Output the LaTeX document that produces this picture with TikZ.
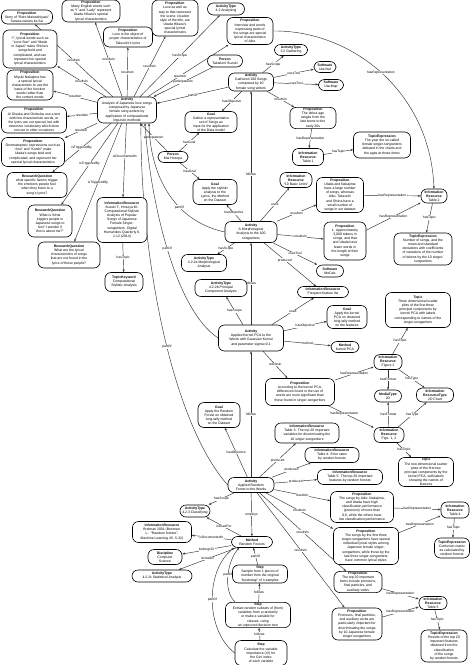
\documentclass[tikz,border=0pt]{standalone}
\usepackage{fontspec}
\setmainfont{Liberation Sans}
\usetikzlibrary{arrows.meta}
\pgfdeclarelayer{bg}
\pgfsetlayers{bg,main}
\newcommand\nodefnt{\fontsize{3.45}{4.1}\selectfont}
\newcommand\labelfnt{\fontsize{3.3}{4}\selectfont}
\tikzset{
  nd/.style={draw=black, line width=0.6pt, rounded corners=6pt, fill=white, align=center, inner sep=0.8pt, font=\nodefnt},
  lb/.style={font=\labelfnt, fill=white, inner sep=0.4pt},
  ar/.style={draw=black!80, line width=0.45pt, -{Stealth[length=2.8pt,width=2.1pt]}},
}
\begin{document}
\begin{tikzpicture}[x=1pt,y=-1pt]
\begin{pgfonlayer}{bg}
\fill[white] (0,0) rectangle (474,665);
\end{pgfonlayer}
\useasboundingbox (0,0) rectangle (474,665);

% ---------------- nodes ----------------
\node[nd,minimum width=51,minimum height=14] (pA) at (27,17) {\textbf{Proposition}\\Story of ``Rare Mainashiyatu''\\Sarasa zanaru ka fuu};
\node[nd,minimum width=58,minimum height=22] (pB) at (91,11) {\textbf{Proposition}\\Many English words such\\as ``I'' and ``Lady'' represent\\Utada Hikaru's special\\lyrical characteristics};
\node[nd,minimum width=54,minimum height=38] (pC) at (30,49) {\textbf{Proposition}\\``I'', lyrical words such as\\``Lone Star'' and ``Made\\in Japan'' make Shiina's\\songs bold and\\complicated, and can\\represent her special\\lyrical characteristics};
\node[nd,minimum width=49,minimum height=20] (pD) at (128,37) {\textbf{Proposition}\\Love is the object of\\proper characteristics of\\Takeuchi's lyrics};
\node[nd,minimum width=46,minimum height=30] (pE) at (30,85) {\textbf{Proposition}\\Miyuki Nakajima has\\a special lyrical\\characteristic to use the\\basis of the function\\words rather than\\the content words};
\node[nd,minimum width=65,minimum height=26] (pF) at (34,120) {\textbf{Proposition}\\Ai Otsuka and Onitsuka use a text\\with few characteristic words, or\\the lyrics are not special, but with\\extensive vocabulary which does\\not use in other occasions};
\node[nd,minimum width=63,minimum height=29] (pG) at (33,152) {\textbf{Proposition}\\Onomatopoeic expressions such as\\``Ano'' and ``Koishi'' make\\Utada's songs bold and\\complicated, and represent her\\special lyrical characteristics};
\node[nd,minimum width=59,minimum height=26] (A1) at (127,110) {\textbf{Activity}\\Analysis of Japanese love songs\\composed by Japanese\\female song writers by\\application of computational\\linguistic methods};
\node[nd,minimum width=46,minimum height=36] (pH) at (175,18) {\textbf{Proposition}\\Love as well as\\way to that represent\\the scene, location\\style of the title, are\\Utada Hikaru's\\special lyrical\\characteristics};
\node[nd,minimum width=37,minimum height=12] (at42) at (226,9) {\textbf{ActivityType}\\4.2 Analysing};
\node[nd,minimum width=46,minimum height=27] (pI) at (250,31) {\textbf{Proposition}\\Interview and words\\expressing parts of\\the songs are special\\lyrical characteristics\\of Aiko};
\node[nd,minimum width=35,minimum height=12] (pers1) at (225,61) {\textbf{Person}\\Takafumi Suzuki};
\node[nd,minimum width=33,minimum height=11] (at32) at (291,50) {\textbf{ActivityType}\\3.2 Gathering};
\node[nd,minimum width=22,minimum height=11] (swNet) at (325,67) {\textbf{Software}\\Uta-Net};
\node[nd,minimum width=25,minimum height=11] (swMap) at (331,85) {\textbf{Software}\\Uta-Map};
\node[nd,minimum width=45,minimum height=18] (aGath) at (251,82) {\textbf{Activity}\\Gathered 100 Songs\\composed by 10\\female song writers};
\node[nd,minimum width=46,minimum height=21] (pDebut) at (313,118) {\textbf{Proposition}\\The debut age\\ranges from the\\late teens to the\\early 20s};
\node[nd,minimum width=52,minimum height=21] (goalG) at (211,122) {\textbf{Goal}\\Gather a representative\\set of Songs as\\input for the application\\of the Data model};
\node[nd,minimum width=30,minimum height=11] (pers2) at (173,157) {\textbf{Person}\\Mai Hosoya};
\node[nd,minimum width=31,minimum height=17] (ir1) at (308,157) {\textbf{Information}\\\textbf{Resource}\\Table 1};
\node[nd,minimum width=57,minimum height=26] (topic1) at (382,145) {\textbf{TopicExpression}\\The year the so-called\\female singer-songwriters\\debuted in the charts and\\the ages at those times};
\node[nd,minimum width=50,minimum height=45] (irSuz) at (122,220) {\textbf{InformationResource}\\Suzuki T., Hosoya M.:\\Computational Stylistic\\Analysis of Popular\\Songs of Japanese\\Female Singer-\\songwriters. Digital\\Humanities Quarterly 8,\\1-12 (2014)};
\node[nd,minimum width=38,minimum height=19] (tk) at (124,282) {\textbf{TopicKeyword}\\Computational\\Stylistic Analysis};
\node[nd,minimum width=60,minimum height=25] (rq1) at (37,185) {\textbf{ResearchQuestion}\\what specific factors trigger\\the emotions people feel\\when they listen to a\\song's lyrics?};
\node[nd,minimum width=44,minimum height=32] (rq2) at (50,221) {\textbf{ResearchQuestion}\\What is it that\\triggers people in\\Japanese songs to\\feel ``I wonder if\\this is about me?''};
\node[nd,minimum width=62,minimum height=26] (rq3) at (69,255) {\textbf{ResearchQuestion}\\What are the lyrical\\characteristics of songs\\that are not found in the\\lyrics of these people?};
\node[nd,minimum width=44,minimum height=25] (goalM) at (215,192) {\textbf{Goal}\\Apply the stylistic\\analysis to the\\Lyrics, the Method\\on the Dataset};
\node[nd,minimum width=32,minimum height=15] (irUnits) at (296,180) {\textbf{Information}\\\textbf{Resource}\\``10 Basic Units''};
\node[nd,minimum width=52,minimum height=21] (aMorph) at (251,232) {\textbf{Activity}\\A Morphological\\Analysis to the 100\\songwriters};
\node[nd,minimum width=47,minimum height=35] (pJ) at (340,195) {\textbf{Proposition}\\Utada and Nakajima\\have a large number\\of songs, whereas\\Aiko, Takeuchi\\and Shiina have a\\small number of\\songs in our dataset};
\node[nd,minimum width=26,minimum height=14] (ir2) at (434,196) {\textbf{Information}\\\textbf{Resource}\\Table 2};
\node[nd,minimum width=42,minimum height=38] (pK) at (345,241) {\textbf{Proposition}\\1. Approximately\\3,000 tokens in\\songs, and that\\and Utada have\\fewer words in\\the length of their\\songs};
\node[nd,minimum width=58,minimum height=32] (topic2) at (423,249) {\textbf{TopicExpression}\\Number of songs, and the\\mean and standard\\deviations with coefficients\\of variations of the number\\of tokens by the 10 singer-\\songwriters};
\node[nd,minimum width=27,minimum height=12] (swMecab) at (330,271) {\textbf{Software}\\MeCab};
\node[nd,minimum width=45,minimum height=17] (at422a) at (204,263) {\textbf{ActivityType}\\4.2.2a Morphological\\Analysis};
\node[nd,minimum width=51,minimum height=11] (irFeat) at (323,292) {\textbf{InformationResource}\\Frequent feature list};
\node[nd,minimum width=52,minimum height=17] (at422b) at (221,288) {\textbf{ActivityType}\\4.2.2b Principal\\Component Analysis};
\node[nd,minimum width=40,minimum height=23] (goalK) at (347,317) {\textbf{Goal}\\Apply the kernel\\PCA on obtained\\long-tally method\\on the features};
\node[nd,minimum width=65,minimum height=35] (topicK) at (418,310) {\textbf{Topic}\\Three dimensional scatter\\plots of the first three\\principal components by\\kernel PCA with labels\\corresponding to names of the\\singer-songwriters};
\node[nd,minimum width=65,minimum height=26] (aKernel) at (251,338) {\textbf{Activity}\\Applied Kernel PCA to the\\Words with Gaussian Kernel\\and parameter sigma=0.1};
\node[nd,minimum width=28,minimum height=11] (mKPCA) at (345,347) {\textbf{Method}\\Kernel PCA};
\node[nd,minimum width=69,minimum height=27] (pKer) at (300,392) {\textbf{Proposition}\\According to the kernel PCA,\\differences found in the use of\\words are more significant than\\those found in singer-songwriters};
\node[nd,minimum width=28,minimum height=15] (irFig1) at (388,362) {\textbf{Information}\\\textbf{Resource}\\Figure 1};
\node[nd,minimum width=27,minimum height=12] (mt2d) at (388,396) {\textbf{MediaType}\\2D};
\node[nd,minimum width=37,minimum height=14] (irt) at (435,395) {\textbf{Information}\\\textbf{ResourceType}\\2D Chart};
\node[nd,minimum width=30,minimum height=15] (irFigs) at (389,435) {\textbf{Information}\\\textbf{Resource}\\Figs. 1, 2};
\node[nd,minimum width=55,minimum height=29] (topicK2) at (426,472) {\textbf{Topic}\\The two-dimensional scatter\\plots of the first two\\principal components by the\\kernel PCA, with labels\\showing the names of\\features};
\node[nd,minimum width=42,minimum height=25] (goalRF) at (219,415) {\textbf{Goal}\\Apply the Random\\Forest on obtained\\long-tally method\\on the Dataset};
\node[nd,minimum width=64,minimum height=20] (irT3) at (307,433) {\textbf{InformationResource}\\Table 3: The top 20 important\\variables for discriminating the\\10 singer-songwriters};
\node[nd,minimum width=54,minimum height=15] (irT4) at (332,455) {\textbf{InformationResource}\\Table 4: Error rates\\by random forests};
\node[nd,minimum width=65,minimum height=15] (irT5) at (350,477) {\textbf{InformationResource}\\Table 5: The top 20 important\\features by random forests};
\node[nd,minimum width=46,minimum height=15] (aRF) at (251,485) {\textbf{Activity}\\Applied Random\\Forest to the Words};
\node[nd,minimum width=30,minimum height=12] (at423) at (195,511) {\textbf{ActivityType}\\4.2.3 Classifying};
\node[nd,minimum width=59,minimum height=21] (irBreiman) at (162,532) {\textbf{InformationResource}\\Breiman 2001 (Breiman,\\L.: ``Random forests'',\\Machine Learning 45: 5-32)};
\node[nd,minimum width=41,minimum height=11] (mRF) at (252,542) {\textbf{Method}\\Random Forests};
\node[nd,minimum width=34,minimum height=15] (disc) at (165,557) {\textbf{Discipline}\\Computer\\Science};
\node[nd,minimum width=60,minimum height=12] (atStat) at (162,576) {\textbf{ActivityType}\\4.2.2c Statistical Analysis};
\node[nd,minimum width=55,minimum height=18] (step1) at (260,574) {\textbf{Step}\\Sample from 1 pieces of\\number from the original\\``bootstrap'' of n-samples};
\node[nd,minimum width=65,minimum height=24] (step2) at (258,615) {\textbf{Step}\\Extract random subsets of (from)\\variables from a randomly\\or make a variable for\\classes, using\\an unpruned decision tree};
\node[nd,minimum width=52,minimum height=25] (step3) at (261,653) {\textbf{Step}\\Calculate the variable\\importance (VI) for\\the Gini index\\of each variable};
\node[nd,minimum width=63,minimum height=31] (pP1) at (362,507) {\textbf{Proposition}\\The songs by Aiko, Nakajima,\\and Utada have high\\classification performance\\(precision) of more than\\0.6, while the others have\\low classification performance};
\node[nd,minimum width=28,minimum height=16] (irT6) at (455,510) {\textbf{Information}\\\textbf{Resource}\\Table 4};
\node[nd,minimum width=65,minimum height=37] (pP2) at (366,546) {\textbf{Proposition}\\The songs by the first three\\singer-songwriters have special\\individual lyrical styles among\\Japanese female singer-\\songwriters, while those by the\\last three singer-songwriters\\have common lyrical styles};
\node[nd,minimum width=35,minimum height=20] (topicCM) at (452,548) {\textbf{TopicExpression}\\Confusion matrix\\as calculated by\\random forests};
\node[nd,minimum width=48,minimum height=21] (pP3) at (358,582) {\textbf{Proposition}\\The top 20 important\\items include pronouns,\\final particles, and\\auxiliary verbs};
\node[nd,minimum width=28,minimum height=13] (irT7) at (433,603) {\textbf{Information}\\\textbf{Resource}\\Table 5};
\node[nd,minimum width=50,minimum height=32] (pP4) at (357,624) {\textbf{Proposition}\\Pronouns, final particles,\\and auxiliary verbs are\\particularly important for\\discriminating the songs\\by 10 Japanese female\\singer-songwriters};
\node[nd,minimum width=46,minimum height=32] (topicRes) at (444,646) {\textbf{TopicExpression}\\Results of the top 20\\important features\\obtained from the\\classification\\of the songs\\by random forests};

% ---------------- edges ----------------
\begin{pgfonlayer}{bg}
% main activity
\draw[ar] (A1) -- node[lb]{resultsIn} (pA);
\draw[ar] (A1) -- node[lb]{resultsIn} (pB);
\draw[ar] (A1) -- node[lb]{resultsIn} (pD);
\draw[ar] (A1) -- node[lb]{resultsIn} (pH);
\draw[ar] (A1) -- node[lb]{resultsIn} (pC);
\draw[ar] (A1) -- node[lb]{resultsIn} (pE);
\draw[ar] (A1) -- node[lb]{resultsIn} (pF);
\draw[ar] (A1) -- node[lb]{resultsIn} (pG);
\draw[ar] (A1) -- node[lb]{isTriggeredBy} (rq1);
\draw[ar] (A1) -- node[lb]{isTriggeredBy} (rq2);
\draw[ar] (A1) -- node[lb]{isTriggeredBy} (rq3);
\draw[ar] (A1) -- node[lb,pos=0.45]{isDocumentedIn} (irSuz);
\draw[ar] (irSuz) -- node[lb]{hasTopic} (tk);
\draw[ar] (A1) -- node[lb]{hasScope} (at42);
\draw[ar] (A1) -- node[lb,pos=0.4]{resultsIn} (pI);
\draw[ar] (pers1) -- node[lb]{participatesIn} (A1);
\draw[ar] (aGath) -- node[lb]{partOf} (A1);
\draw[ar] (pers2) -- node[lb]{participatesIn} (A1);
\draw[ar] (pers2) -- node[lb]{hasGoal} (goalG);
\draw[ar] (pers2) -- node[lb]{hasGoal} (goalM);
% gathering
\draw[ar] (aGath) -- node[lb]{hasScope} (at32);
\draw[ar] (aGath) -- node[lb]{usesTool} (swNet);
\draw[ar] (aGath) -- node[lb]{usesTool} (swMap);
\draw[ar] (aGath) -- node[lb]{resultsIn} (pDebut);
\draw[ar] (aGath) -- node[lb]{hasObjective} (goalG);
\draw[ar] (pDebut) -- node[lb]{hasRepresentation} (ir1);
\draw[ar] (ir1) -- node[lb]{hasTopic} (topic1);
\draw[ar] (pI.east) .. controls (350,30) and (430,90) .. node[lb]{hasRepresentation} (ir2.north);
% morphological
\draw[ar] (aMorph.north) -- node[lb,pos=0.36]{follows} (aGath.south);
\draw[ar] (aMorph.west) .. controls (170,220) and (150,170) .. node[lb,pos=0.35]{partOf} ([xshift=22pt]A1.south);
\draw[ar] (aMorph) -- node[lb]{hasObjective} (goalM);
\draw[ar] (aMorph) -- node[lb]{used} (irUnits);
\draw[ar] (aMorph) -- node[lb]{resultsIn} (pJ);
\draw[ar] (aMorph) -- node[lb]{resultsIn} (pK);
\draw[ar] (aMorph) -- node[lb]{usesTool} (swMecab);
\draw[ar] (aMorph) -- node[lb,pos=0.4]{produced} (irFeat);
\draw[ar] (aMorph) -- node[lb]{hasScope} (at422a);
\draw[ar] (pJ) -- node[lb]{hasRepresentation} (ir2);
\draw[ar] (pK) -- node[lb]{hasRepresentation} (ir2);
\draw[ar] (ir2) -- node[lb]{hasTopic} (topic2);
% kernel PCA
\draw[ar] (aKernel.north) -- node[lb]{follows} (aMorph.south);
\draw[ar] (aKernel.west) .. controls (175,310) and (150,200) .. node[lb]{partOf} ([xshift=18pt]A1.south);
\draw[ar] (aKernel) -- node[lb]{hasScope} (at422b);
\draw[ar] (aKernel) -- node[lb]{used} (irFeat);
\draw[ar] (aKernel) -- node[lb]{hasObjective} (goalK);
\draw[ar] (aKernel) -- node[lb]{method} (mKPCA);
\draw[ar] (aKernel) -- node[lb]{resultsIn} (pKer);
\draw[ar] (pKer) -- node[lb]{hasRepresentation} (irFig1);
\draw[ar] (pKer) -- node[lb,pos=0.35]{hasRepresentation} (irFigs);
\draw[ar] (irFig1) -- node[lb]{hasTopic} (topicK);
\draw[ar] (irFig1) -- node[lb]{hasFormat} (mt2d);
\draw[ar] (irFig1) -- node[lb]{hasType} (irt);
\draw[ar] (irFigs) -- node[lb]{hasFormat} (mt2d);
\draw[ar] (irFigs) -- node[lb]{hasType} (irt);
\draw[ar] (irFigs) -- node[lb]{hasTopic} (topicK2);
% random forest
\draw[ar] (aRF.north) -- node[lb]{follows} (aKernel.south);
\draw[ar] (aRF.west) .. controls (170,420) and (140,250) .. node[lb,pos=0.45]{partOf} ([xshift=14pt]A1.south);
\draw[ar] (aRF) -- node[lb]{hasObjective} (goalRF);
\draw[ar] (aRF) -- node[lb]{produced} (irT3);
\draw[ar] (aRF) -- node[lb]{produced} (irT4);
\draw[ar] (aRF) -- node[lb]{produced} (irT5);
\draw[ar] (aRF) -- node[lb]{resultsIn} (pP1);
\draw[ar] (aRF) -- node[lb]{resultsIn} (pP2);
\draw[ar] (aRF) -- node[lb]{resultsIn} (pP3);
\draw[ar] (aRF) -- node[lb]{resultsIn} (pP4);
\draw[ar] (aRF) -- node[lb]{hasScope} (at423);
\draw[ar] (aRF) -- node[lb]{employs} (mRF);
\draw[ar] (mRF) -- node[lb]{isUsedFor} (at423);
\draw[ar] (mRF) -- node[lb]{isDocumentedIn} (irBreiman);
\draw[ar] (mRF) -- node[lb]{belongsTo} (disc);
\draw[ar] (mRF) -- node[lb]{isUsedIn} (atStat);
\draw[ar] (step1) -- node[lb]{partOf} (mRF);
\draw[ar] ([xshift=10pt]step2.north west) .. controls (222,590) and (228,560) .. node[lb]{partOf} ([xshift=8pt]mRF.south west);
\draw[ar] (step3.west) .. controls (205,630) and (205,570) .. node[lb]{partOf} ([xshift=3pt]mRF.south west);
\draw[ar] (step2) -- node[lb]{follows} (step1);
\draw[ar] (step3) -- node[lb]{follows} (step2);
\draw[ar] (pP1) -- node[lb]{hasRepresentation} (irT6);
\draw[ar] (pP2) -- node[lb]{hasRepresentation} (irT6);
\draw[ar] (irT6) -- node[lb]{hasTopic} (topicCM);
\draw[ar] (pP3) -- node[lb]{hasRepresentation} (irT7);
\draw[ar] (pP4) -- node[lb]{hasRepresentation} (irT7);
\draw[ar] (irT7) -- node[lb]{hasTopic} (topicRes);
\end{pgfonlayer}
\end{tikzpicture}
\end{document}
